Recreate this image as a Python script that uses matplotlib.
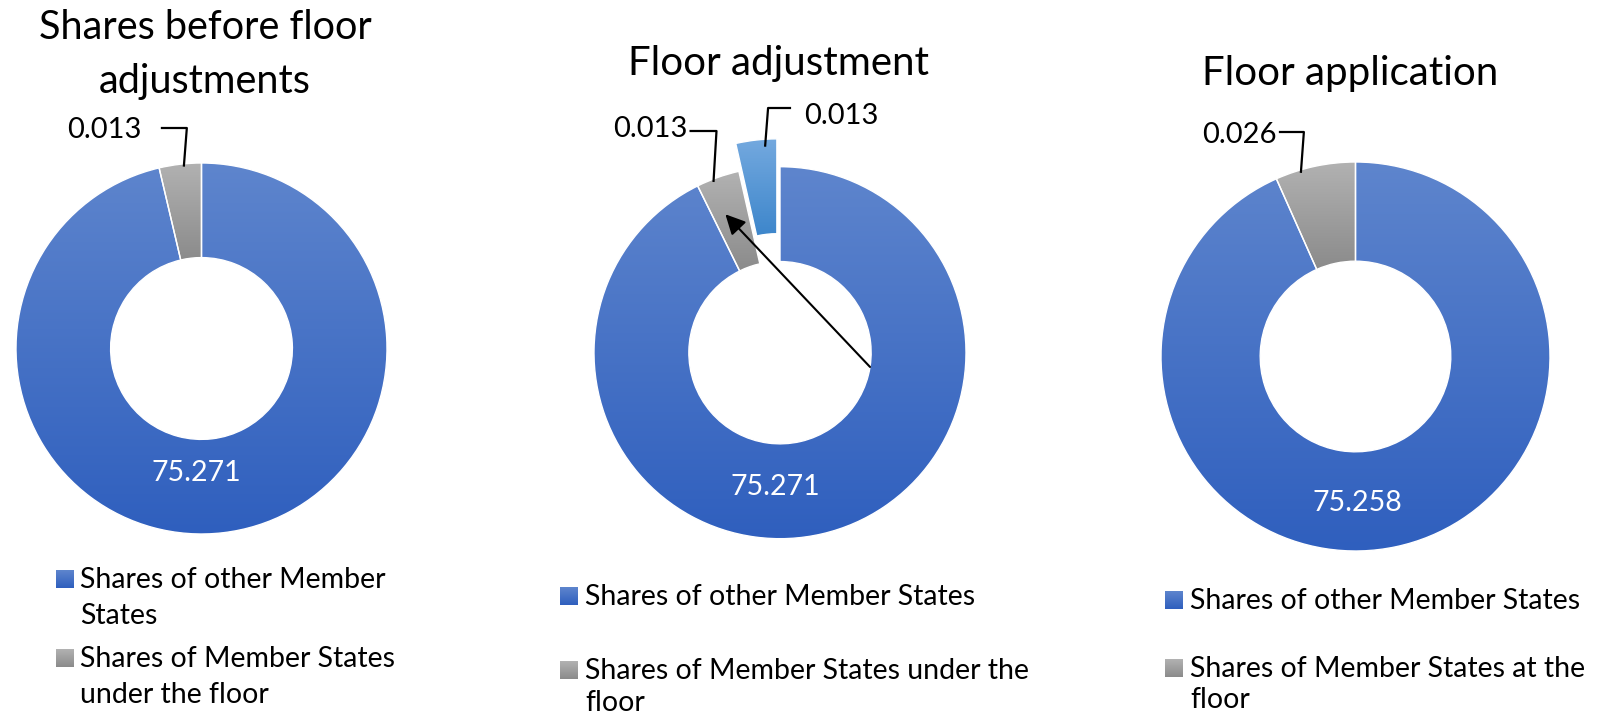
import numpy as np
import matplotlib
matplotlib.use("Agg")
import matplotlib.pyplot as plt
from matplotlib.patches import Rectangle
from matplotlib.colors import to_rgb

# ---------------- data ----------------
titles = ["Shares before floor\nadjustments", "Floor adjustment", "Floor application"]
other_values = [75.271, 75.271, 75.258]          # label of the big blue slice
floor_values = [0.013, 0.013, 0.026]             # label of the grey slice
adjust_value = 0.013                             # label of the exploded slice (panel 2)
# angular share (%) of each slice as drawn in the picture
slice_other = [96.33, 92.70, 93.33]
slice_floor = [3.67, 3.75, 6.67]
slice_adjust = 3.55
legend_other = ["Shares of other Member\nStates",
                "Shares of other Member States",
                "Shares of other Member States"]
legend_floor = ["Shares of Member States\nunder the floor",
                "Shares of Member States under the\nfloor",
                "Shares of Member States at the\nfloor"]

# ---------------- style / layout ----------------
FONT = ["Lato", "DejaVu Sans"]
W, H = 1597, 718
BLUE = ("#5E85CD", "#2F5FBE")
GREY = ("#B2B2B2", "#8B8B8B")
LBLUE = ("#74A9DF", "#3D86CB")

centers = [(201.5, 348.5), (780.0, 352.7), (1355.5, 356.5)]
r_out = [185.5, 186.0, 194.5]
hole = 0.49
explode_px = 28
title_pos = [(205, 39, 54, 28.5), (778.5, 75, 0, 29), (1350, 85, 0, 29)]  # x, baseline, step, size
center_lbl_off = [(-5.5, 124.5), (-5, 134), (2, 146.5)]
legend_cfg = [
    dict(mx=56, tx=80, y1=588, step=36, y2=667),
    dict(mx=560, tx=585, y1=605, step=32, y2=679),
    dict(mx=1165, tx=1190, y1=609, step=31, y2=677),
]
# leader: position of anchor inside grey slice (0=start,1=end), elbow y, line length, text gap
leader_cfg = [
    dict(frac=0.58, y=128, length=-26, gap=19, ty=2),
    dict(frac=0.37, y=131, length=-27, gap=2, ty=-2),
    dict(frac=0.31, y=132, length=-25, gap=2, ty=3),
]
LBL_FS = 21

fig = plt.figure(figsize=(W / 100, H / 100), dpi=100)
ax = fig.add_axes([0, 0, 1, 1])
ax.set_axis_off()


def gradient_fill(wedge, top, bot):
    ext = wedge.get_path().get_extents()
    t = np.linspace(0, 1, 256)[:, None]
    c = (1 - t) * np.array(to_rgb(top)) + t * np.array(to_rgb(bot))
    img = np.repeat(c[:, None, :], 2, axis=1)
    im = ax.imshow(img, extent=(ext.x0, ext.x1, ext.y1, ext.y0), origin="upper",
                   aspect="auto", interpolation="bilinear", zorder=1)
    im.set_clip_path(wedge)
    wedge.set_facecolor("none")
    wedge.set_zorder(2)


def polar(c, r, ang_deg):
    # angle measured clockwise from 12 o'clock, y axis pointing down
    a = np.deg2rad(ang_deg)
    return c[0] + r * np.sin(a), c[1] - r * np.cos(a)


def leader(anchor, elbow_y, length, text, gap, ty):
    x0, y0 = anchor
    ex = x0 + 3
    ax.plot([x0, ex, ex + length], [y0, elbow_y, elbow_y], color="black", lw=1.6,
            solid_capstyle="butt", zorder=5)
    if length < 0:
        ax.text(ex + length - gap, elbow_y + ty, text, ha="right", va="center",
                fontsize=LBL_FS, family=FONT, zorder=5)
    else:
        ax.text(ex + length + gap, elbow_y + ty, text, ha="left", va="center",
                fontsize=LBL_FS, family=FONT, zorder=5)


for i in range(3):
    c = centers[i]
    R = r_out[i]
    if i == 1:
        sizes = [slice_other[i], slice_floor[i], slice_adjust]
        cols = [BLUE, GREY, LBLUE]
        expl = [0, 0, explode_px]
    else:
        sizes = [slice_other[i], slice_floor[i]]
        cols = [BLUE, GREY]
        expl = [0, 0]
    wedges, _ = ax.pie(sizes, center=c, radius=R, startangle=-90, counterclock=True,
                       explode=expl,
                       wedgeprops=dict(width=R * (1 - hole), edgecolor="white", linewidth=1.0))
    for w, col in zip(wedges, cols):
        gradient_fill(w, *col)

    # angles (clockwise from top) of slice boundaries
    tot = sum(sizes)
    bounds = np.cumsum([0] + sizes) / tot * 360

    # label of the blue slice
    dx, dy = center_lbl_off[i]
    ax.text(c[0] + dx, c[1] + dy, f"{other_values[i]:.3f}", color="white", ha="center",
            va="center", fontsize=20.5, family=FONT, zorder=6)

    # grey slice label
    lc_ = leader_cfg[i]
    g_ang = bounds[1] + lc_["frac"] * (bounds[2] - bounds[1])
    anchor = polar(c, R * 0.985, g_ang)
    leader(anchor, lc_["y"], lc_["length"], f"{floor_values[i]:.3f}", lc_["gap"], lc_["ty"])

    if i == 1:
        a_mid = (bounds[2] + bounds[3]) / 2
        ec = polar(c, explode_px, a_mid)
        anchor2 = polar(ec, R * 0.96, a_mid + 2.6)
        leader(anchor2, 108, 23, f"{adjust_value:.3f}", 13, 8)
        # arrow from the centre hole to the grey slice
        g_mid = (bounds[1] + bounds[2]) / 2
        tail = polar(c, R * hole, 99)
        tip = polar(c, R * 0.8, g_mid - 2)
        ax.annotate("", xy=tip, xytext=tail,
                    arrowprops=dict(arrowstyle="-|>", color="black", lw=1.5,
                                    mutation_scale=30, shrinkA=0, shrinkB=0), zorder=7)

    # title
    tx, ty, tstep, tfs = title_pos[i]
    for k, line in enumerate(titles[i].split("\n")):
        ax.text(tx, ty + k * tstep, line, ha="center", va="baseline", fontsize=tfs,
                family=FONT)

    # legend
    lc = legend_cfg[i]
    for label, col, ybase in ((legend_other[i], BLUE, lc["y1"]), (legend_floor[i], GREY, lc["y2"])):
        t = np.linspace(0, 1, 64)[:, None]
        cc = (1 - t) * np.array(to_rgb(col[0])) + t * np.array(to_rgb(col[1]))
        img = np.repeat(cc[:, None, :], 2, axis=1)
        ax.imshow(img, extent=(lc["mx"], lc["mx"] + 18, ybase, ybase - 18), origin="upper",
                  aspect="auto", interpolation="bilinear")
        for k, line in enumerate(label.split("\n")):
            ax.text(lc["tx"], ybase + k * lc["step"], line, ha="left", va="baseline",
                    fontsize=20.5, family=FONT)

ax.set_xlim(0, W)
ax.set_ylim(H, 0)
ax.set_aspect("auto")
fig.savefig("out.png", dpi=100, facecolor="white")
